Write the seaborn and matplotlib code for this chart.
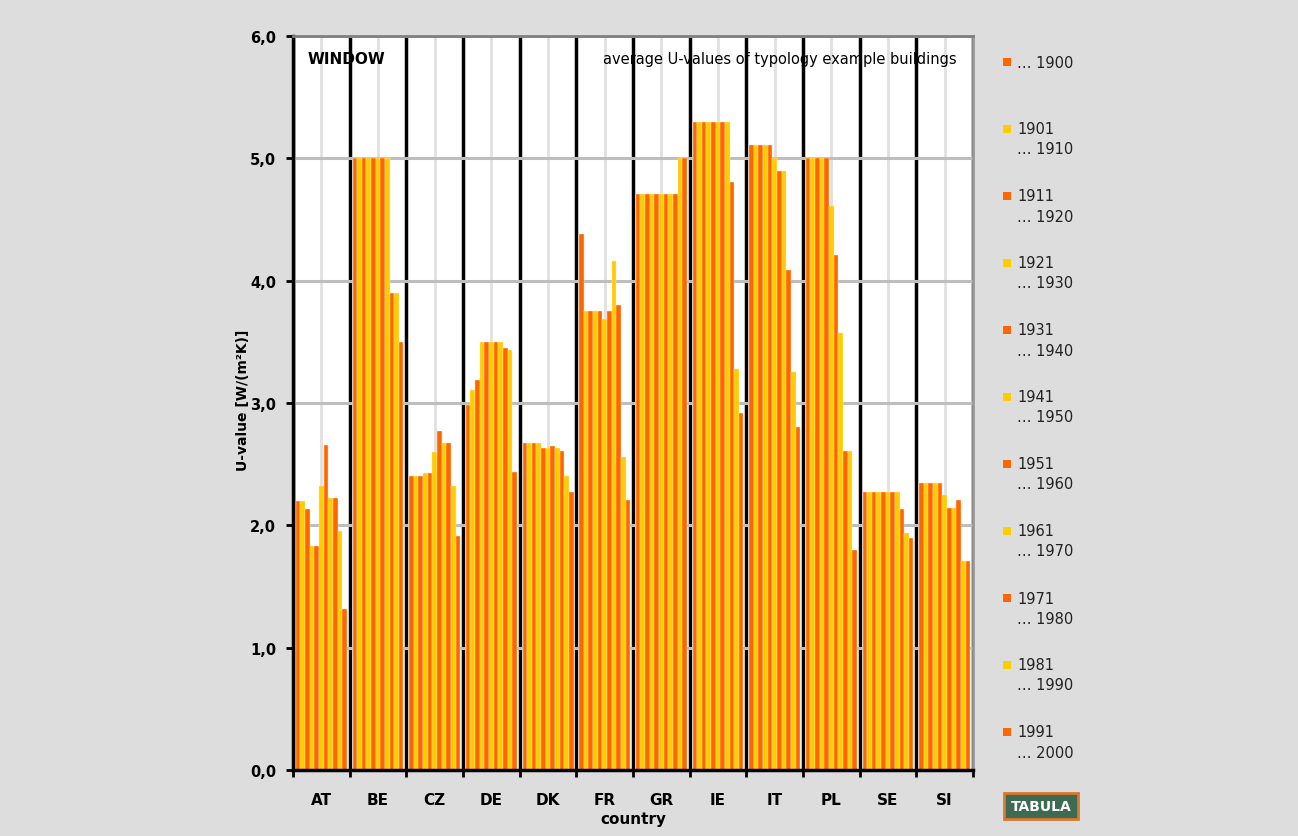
import matplotlib
matplotlib.use("Agg")
import matplotlib.pyplot as plt
from matplotlib.patches import Rectangle
import seaborn as sns
import pandas as pd

# Countries and construction periods
countries = ["AT", "BE", "CZ", "DE", "DK", "FR", "GR", "IE", "IT", "PL", "SE", "SI"]
periods = ["… 1900", "1901\n… 1910", "1911\n… 1920", "1921\n… 1930", "1931\n… 1940",
           "1941\n… 1950", "1951\n… 1960", "1961\n… 1970", "1971\n… 1980",
           "1981\n… 1990", "1991\n… 2000"]

# average window U-values [W/(m²K)] per period
at = [2.20, 2.20, 2.13, 1.83, 1.83, 2.32, 2.66, 2.22, 2.22, 1.95, 1.32]
be = [5.00, 5.00, 5.00, 5.00, 5.00, 5.00, 5.00, 5.00, 3.90, 3.90, 3.50]
cz = [2.40, 2.40, 2.40, 2.43, 2.43, 2.60, 2.77, 2.67, 2.67, 2.32, 1.91]
de = [2.98, 3.11, 3.19, 3.50, 3.50, 3.50, 3.50, 3.50, 3.45, 3.43, 2.44]
dk = [2.67, 2.67, 2.67, 2.67, 2.63, 2.63, 2.65, 2.63, 2.61, 2.40, 2.27]
fr = [4.38, 3.75, 3.75, 3.75, 3.75, 3.69, 3.75, 4.16, 3.80, 2.56, 2.21]
gr = [4.71, 4.71, 4.71, 4.71, 4.71, 4.71, 4.71, 4.71, 4.71, 5.00, 5.00]
ie = [5.30, 5.30, 5.30, 5.30, 5.30, 5.30, 5.30, 5.30, 4.81, 3.28, 2.92]
it = [5.11, 5.11, 5.11, 5.11, 5.11, 5.00, 4.90, 4.90, 4.09, 3.25, 2.80]
pl = [5.00, 5.00, 5.00, 5.00, 5.00, 4.61, 4.21, 3.57, 2.61, 2.61, 1.80]
se = [2.27, 2.27, 2.27, 2.27, 2.27, 2.27, 2.27, 2.27, 2.13, 1.94, 1.90]
si = [2.35, 2.35, 2.35, 2.35, 2.35, 2.25, 2.14, 2.14, 2.21, 1.71, 1.71]

orange = "#FF6600"
yellow = "#FFCC00"
colors = [orange if i % 2 == 0 else yellow for i in range(len(periods))]

rows = []
for c, vals in zip(countries, [at, be, cz, de, dk, fr, gr, ie, it, pl, se, si]):
    for p, v in zip(periods, vals):
        rows.append({"country": c, "period": p, "u": v})
df = pd.DataFrame(rows)

plt.rcParams["font.family"] = ["DejaVu Sans"]

fig = plt.figure(figsize=(12.98, 8.37), dpi=100, facecolor="#DDDDDD")
ax = fig.add_axes([293 / 1298, 1 - 771 / 837, 680 / 1298, 734 / 837])
ax.set_facecolor("white")

sns.barplot(data=df, x="country", y="u", hue="period", hue_order=periods,
            palette=colors, saturation=1, width=0.9, gap=0, legend=False,
            edgecolor="#FFE6C0", linewidth=0.3, ax=ax)

ax.set_xlim(-0.5, len(countries) - 0.5)
ax.set_ylim(0, 6)
yt = [0, 1, 2, 3, 4, 5, 6]
ax.set_yticks(yt)
ax.set_yticklabels([f"{v:.1f}".replace(".", ",") for v in yt], fontweight="bold", fontsize=10.5)
ax.set_xticks(range(len(countries)))
ax.set_xticklabels(countries, fontweight="bold", fontsize=11)
ax.set_xticks([i + 0.5 for i in range(-1, len(countries))], minor=True)

ax.set_axisbelow(True)
ax.grid(axis="y", which="major", color="#BEBEBE", lw=2.2)
ax.grid(axis="x", which="major", color="#E0E0E0", lw=2)
ax.grid(axis="x", which="minor", color="black", lw=2.5)

ax.tick_params(axis="y", which="major", length=5, width=2, color="black", pad=7)
ax.tick_params(axis="x", which="major", length=0, pad=16)
ax.tick_params(axis="x", which="minor", length=5, width=2, color="black")

for s in ["left", "bottom"]:
    ax.spines[s].set_color("black")
    ax.spines[s].set_linewidth(2.5)
ax.spines["top"].set_color("#808080")
ax.spines["top"].set_linewidth(2)
ax.spines["right"].set_color("#999999")
ax.spines["right"].set_linewidth(2)

ax.set_xlabel("country", fontweight="bold", fontsize=11, labelpad=3)
ax.set_ylabel("")
fig.text(243 / 1298, 1 - 400 / 837, "U-value [W/(m²K)]", rotation=90,
         ha="center", va="center", fontweight="bold", fontsize=10)

ax.text(0.021, 0.970, "WINDOW", transform=ax.transAxes, fontweight="bold",
        fontsize=11, ha="left", va="center")
ax.text(0.976, 0.969, "average U-values of typology example buildings",
        transform=ax.transAxes, fontsize=10.5, ha="right", va="center")

# legend on the right, one entry per period
for i, (p, col) in enumerate(zip(periods, colors)):
    y = 63 + 67 * i
    fig.add_artist(Rectangle(((1003) / 1298, 1 - (y + 4) / 837), 8 / 1298, 8 / 837,
                             transform=fig.transFigure, facecolor=col, edgecolor="none"))
    for j, line in enumerate(p.split("\n")):
        fig.text(1017 / 1298, 1 - (y + 20 * j) / 837, line, fontsize=10.5,
                 ha="left", va="center", color="#222222")

# logo
fig.text(1041 / 1298, 1 - 807 / 837, "TABULA", color="white", fontweight="bold",
         fontsize=10, ha="center", va="center",
         bbox=dict(boxstyle="square,pad=0.45", fc="#3E6A52", ec="#D9782D", lw=2))

fig.savefig("out.png", dpi=100, facecolor=fig.get_facecolor())
